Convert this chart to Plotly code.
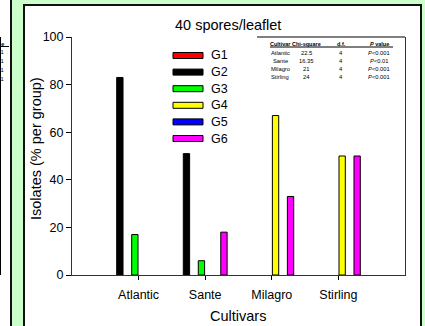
import plotly.graph_objects as go

# ---------------- data ----------------
CULTIVARS = ["Atlantic", "Sante", "Milagro", "Stirling"]
SERIES = ["G1", "G2", "G3", "G4", "G5", "G6"]
G1 = [0, 0, 0, 0]
G2 = [83, 51, 0, 0]
G3 = [17, 6, 0, 0]
G4 = [0, 0, 67, 50]
G5 = [0, 0, 0, 0]
G6 = [0, 18, 33, 50]
VALUES = [G1, G2, G3, G4, G5, G6]
Y_TICKS = [0, 20, 40, 60, 80, 100]

TITLE = "40 spores/leaflet"
X_TITLE = "Cultivars"
Y_TITLE = "Isolates (% per group)"

TABLE_HEADER = ["Cultivar", "Chi-square", "d.f.", "<i>P</i> value"]
CHI_SQUARE = ["22.5", "16.35", "21", "24"]
DF = ["4", "4", "4", "4"]
P_VALUES = ["<i>P</i>&lt;0.001", "<i>P</i>&lt;0.01", "<i>P</i>&lt;0.001", "<i>P</i>&lt;0.001"]

# ---------------- style ----------------
COLORS = ["#ff0000", "#000000", "#00ff00", "#ffff00", "#0000ff", "#ff00ff"]
SLOTS = [1, 0, 2, 3, 4, 5]          # slot position of each series within a group
FONT = "Liberation Sans, Arial, sans-serif"
GREEN_BG = "#ccffcc"

W_FIG, H_FIG = 425, 326
L, R, T, B = 72, 405, 37, 275       # plot area in pixels
PW, PH = R - L, B - T


def fx(px):
    return (px - L) / PW


def fy(py):
    return (B - py) / PH


PITCH = 0.1126     # category units per slot
BAR_W = 0.095
TAB_FS = 5.8
HEAD_FS = 5.5
ROW_Y0, ROW_DY = 52.8, 7.9

fig = go.Figure()
for name, vals, col, slot in zip(SERIES, VALUES, COLORS, SLOTS):
    fig.add_trace(go.Bar(
        x=CULTIVARS, y=[v if v else None for v in vals], name=name,
        marker=dict(color=col, line=dict(color="#000000", width=1)),
        width=BAR_W,
        offset=(slot - 2.5) * PITCH - BAR_W / 2,
        showlegend=False,
    ))

shapes = []
annotations = []

# panels
shapes.append(dict(type="rect", xref="paper", yref="paper",
                   x0=fx(-30), x1=fx(11), y0=fy(360), y1=fy(-30),
                   fillcolor="white", line=dict(color="#111111", width=2), layer="below"))
shapes.append(dict(type="rect", xref="paper", yref="paper",
                   x0=fx(24), x1=fx(421), y0=fy(360), y1=fy(5),
                   fillcolor="white", line=dict(color="#111111", width=2), layer="below"))

# left panel fragments (neighbouring chart, cut off)
shapes.append(dict(type="line", xref="paper", yref="paper",
                   x0=fx(0.5), x1=fx(0.5), y0=fy(37), y1=fy(275),
                   line=dict(color="#000000", width=1)))
shapes.append(dict(type="line", xref="paper", yref="paper",
                   x0=fx(-20), x1=fx(9), y0=fy(46.5), y1=fy(46.5),
                   line=dict(color="#000000", width=1)))
annotations.append(dict(xref="paper", yref="paper", x=fx(5.5), y=fy(43.5),
                        text="<b>" + TABLE_HEADER[3] + "</b>", showarrow=False,
                        xanchor="right", yanchor="middle",
                        font=dict(family=FONT, size=HEAD_FS, color="#000")))
for i in range(len(P_VALUES)):
    annotations.append(dict(xref="paper", yref="paper", x=fx(5.5), y=fy(52.3 + 8.9 * i),
                            text="<i>P</i>&lt;0.001", showarrow=False,
                            xanchor="right", yanchor="middle",
                            font=dict(family=FONT, size=TAB_FS, color="#000")))

# partial top line over table
shapes.append(dict(type="line", xref="paper", yref="paper",
                   x0=fx(257), x1=fx(405), y0=1, y1=1,
                   line=dict(color="#000000", width=1)))

# table
COL_X = [280, 306, 341, 379]
shapes.append(dict(type="line", xref="paper", yref="paper",
                   x0=fx(270), x1=fx(393), y0=fy(47), y1=fy(47),
                   line=dict(color="#000000", width=1)))
for cx, h in zip(COL_X, TABLE_HEADER):
    annotations.append(dict(xref="paper", yref="paper", x=fx(cx), y=fy(43.5),
                            text="<b>" + h + "</b>", showarrow=False,
                            xanchor="center", yanchor="middle",
                            font=dict(family=FONT, size=HEAD_FS, color="#000")))
for i, row in enumerate(zip(CULTIVARS, CHI_SQUARE, DF, P_VALUES)):
    for cx, cell in zip(COL_X, row):
        annotations.append(dict(xref="paper", yref="paper", x=fx(cx), y=fy(ROW_Y0 + ROW_DY * i),
                                text=cell, showarrow=False,
                                xanchor="center", yanchor="middle",
                                font=dict(family=FONT, size=TAB_FS, color="#000")))

# legend
for i, (name, col) in enumerate(zip(SERIES, COLORS)):
    yc = 55.5 + 16.6 * i
    shapes.append(dict(type="rect", xref="paper", yref="paper",
                       x0=fx(173), x1=fx(203), y0=fy(yc + 3), y1=fy(yc - 3),
                       fillcolor=col, line=dict(color="#000000", width=1)))
    annotations.append(dict(xref="paper", yref="paper", x=fx(209), y=fy(yc),
                            text=name, showarrow=False, xanchor="left", yanchor="middle",
                            font=dict(family=FONT, size=12.5, color="#000")))

# titles
annotations.append(dict(xref="paper", yref="paper", x=fx(228), y=fy(25), text=TITLE,
                        showarrow=False, xanchor="center", yanchor="middle",
                        font=dict(family=FONT, size=14.5, color="#000")))
annotations.append(dict(xref="paper", yref="paper", x=fx(238), y=fy(316), text=X_TITLE,
                        showarrow=False, xanchor="center", yanchor="middle",
                        font=dict(family=FONT, size=14.5, color="#000")))
annotations.append(dict(xref="paper", yref="paper", x=fx(36), y=fy(149), text=Y_TITLE,
                        showarrow=False, xanchor="center", yanchor="middle", textangle=-90,
                        font=dict(family=FONT, size=14.5, color="#000")))

fig.update_layout(
    width=W_FIG, height=H_FIG,
    margin=dict(l=L, r=W_FIG - R, t=T, b=H_FIG - B, pad=0),
    paper_bgcolor=GREEN_BG, plot_bgcolor="white",
    barmode="overlay",
    shapes=shapes, annotations=annotations,
    font=dict(family=FONT, color="#000"),
)
fig.update_xaxes(type="category", range=[-1, 4], showgrid=False, zeroline=False,
                 showline=True, linecolor="#333333", linewidth=1,
                 ticks="outside", ticklen=4, tickcolor="#000", tickwidth=1,
                 ticklabelstandoff=4,
                 tickfont=dict(family=FONT, size=12.5, color="#000"))
fig.update_yaxes(range=[0, 100], tickvals=Y_TICKS, showgrid=False, zeroline=False,
                 showline=True, linecolor="#333333", linewidth=1, mirror=True,
                 ticks="outside", ticklen=5, tickcolor="#000", tickwidth=1,
                 tickfont=dict(family=FONT, size=12.5, color="#000"))

fig.write_html("out.html", config={"displayModeBar": False},
               post_script="document.body.style.margin='0px';document.body.style.overflow='hidden';")
